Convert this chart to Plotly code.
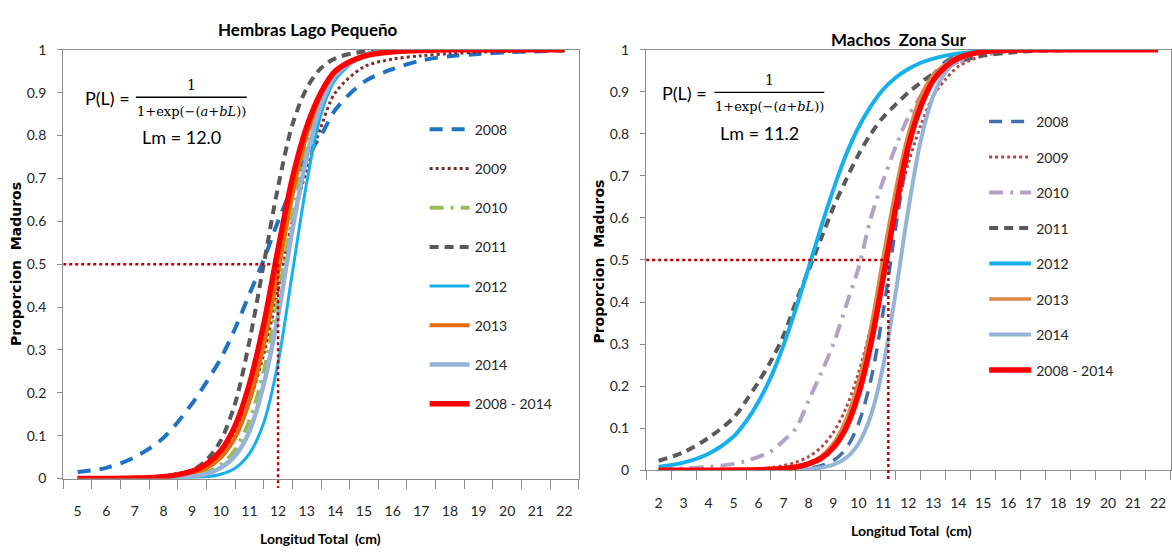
import plotly.graph_objects as go

W, H = 1172, 558

# ---------------- Hembras Lago Pequeño ----------------
lp_len = [5, 6, 7, 8, 9, 9.5, 10, 10.5, 11, 11.5, 12, 12.5, 13, 13.5, 14,
          15, 16, 17, 18, 19, 20, 21, 22]
lp_2008 = [0.015, 0.025, 0.05, 0.095, 0.175, 0.225, 0.28, 0.35, 0.43, 0.51, 0.60,
           0.68, 0.75, 0.80, 0.86, 0.925, 0.955, 0.975, 0.985, 0.99, 0.994, 0.996, 0.998]
lp_2009 = [0.0, 0.001, 0.002, 0.006, 0.02, 0.035, 0.06, 0.11, 0.18, 0.29, 0.44,
           0.60, 0.72, 0.82, 0.90, 0.96, 0.978, 0.986, 0.991, 0.994, 0.996, 0.998, 0.999]
lp_2010 = [0.0, 0.0, 0.0003, 0.0015, 0.007, 0.015, 0.032, 0.067, 0.135, 0.25, 0.42,
           0.61, 0.775, 0.88, 0.94, 0.987, 0.997, 1, 1, 1, 1, 1, 1]
lp_2011 = [0.0, 0.0002, 0.001, 0.004, 0.02, 0.043, 0.089, 0.175, 0.32, 0.5, 0.68,
           0.825, 0.91, 0.957, 0.98, 0.996, 0.999, 1, 1, 1, 1, 1, 1]
lp_2012 = [0.0, 0.0, 0.0, 0.0005, 0.002, 0.004, 0.010, 0.024, 0.058, 0.13, 0.27,
           0.48, 0.69, 0.85, 0.93, 0.988, 0.998, 1, 1, 1, 1, 1, 1]
lp_2013 = [0.0, 0.0002, 0.001, 0.003, 0.012, 0.024, 0.049, 0.095, 0.18, 0.31, 0.48,
           0.66, 0.80, 0.89, 0.944, 0.986, 0.997, 1, 1, 1, 1, 1, 1]
lp_2014 = [0.0, 0.0, 0.0002, 0.001, 0.005, 0.011, 0.025, 0.053, 0.11, 0.22, 0.38,
           0.58, 0.75, 0.87, 0.94, 0.987, 0.997, 1, 1, 1, 1, 1, 1]
lp_all = [0.0, 0.0003, 0.001, 0.004, 0.017, 0.034, 0.065, 0.123, 0.22, 0.36, 0.535,
          0.70, 0.82, 0.90, 0.95, 0.985, 0.995, 0.998, 1, 1, 1, 1, 1]
lp_ticks = list(range(5, 23))
lp_lm = 12.0

# ---------------- Machos Zona Sur ----------------
zs_len = [2, 3, 4, 5, 5.5, 6, 6.5, 7, 7.5, 8, 8.5, 9, 9.5, 10, 10.5, 11, 11.5,
          12, 12.5, 13, 13.5, 14, 15, 16, 17, 18, 19, 20, 21, 22]
zs_2008 = [0, 0, 0, 0, 0, 0, 0.0005, 0.001, 0.002, 0.005, 0.011, 0.023, 0.051, 0.11,
           0.215, 0.38, 0.58, 0.756, 0.875, 0.94, 0.972, 0.987, 0.997, 1, 1, 1, 1, 1, 1, 1]
zs_2009 = [0, 0.0001, 0.0004, 0.0012, 0.002, 0.0036, 0.006, 0.011, 0.019, 0.032, 0.054,
           0.09, 0.147, 0.23, 0.34, 0.47, 0.61, 0.73, 0.82, 0.89, 0.93, 0.96, 0.986,
           0.995, 0.998, 1, 1, 1, 1, 1]
zs_2010 = [0.002, 0.004, 0.008, 0.015, 0.022, 0.032, 0.045, 0.07, 0.10, 0.165, 0.23,
           0.30, 0.39, 0.48, 0.60, 0.69, 0.77, 0.84, 0.89, 0.93, 0.955, 0.97, 0.988,
           0.995, 0.998, 1, 1, 1, 1, 1]
zs_2011 = [0.022, 0.043, 0.077, 0.125, 0.165, 0.21, 0.26, 0.32, 0.40, 0.475, 0.55,
           0.625, 0.69, 0.75, 0.80, 0.84, 0.87, 0.898, 0.922, 0.943, 0.96, 0.972,
           0.986, 0.993, 0.997, 0.998, 0.999, 1, 1, 1]
zs_2012 = [0.0085, 0.018, 0.039, 0.08, 0.116, 0.163, 0.222, 0.297, 0.385, 0.48, 0.577,
           0.668, 0.749, 0.815, 0.866, 0.906, 0.934, 0.954, 0.969, 0.979, 0.986, 0.991,
           0.996, 0.999, 1, 1, 1, 1, 1, 1]
zs_2013 = [0, 0, 0, 0.0005, 0.001, 0.0015, 0.0025, 0.0045, 0.009, 0.017, 0.033, 0.064,
           0.12, 0.21, 0.34, 0.51, 0.67, 0.80, 0.89, 0.94, 0.966, 0.984, 0.996, 0.999,
           1, 1, 1, 1, 1, 1]
zs_2014 = [0, 0, 0, 0, 0, 0, 0.0002, 0.0005, 0.001, 0.003, 0.006, 0.013, 0.029, 0.063,
           0.13, 0.25, 0.425, 0.62, 0.785, 0.89, 0.948, 0.975, 0.995, 1, 1, 1, 1, 1, 1, 1]
zs_all = [0, 0, 0, 0.0003, 0.0005, 0.001, 0.002, 0.004, 0.0075, 0.015, 0.028, 0.054,
          0.10, 0.18, 0.30, 0.46, 0.625, 0.77, 0.865, 0.927, 0.96, 0.98, 0.995, 0.999,
          1, 1, 1, 1, 1, 1]
zs_ticks = list(range(2, 23))
zs_lm = 11.2

series_names = ["2008", "2009", "2010", "2011", "2012", "2013", "2014", "2008 - 2014"]
y_ticks = [0, 0.1, 0.2, 0.3, 0.4, 0.5, 0.6, 0.7, 0.8, 0.9, 1]
y_ticktext = ["0", "0.1", "0.2", "0.3", "0.4", "0.5", "0.6", "0.7", "0.8", "0.9", "1"]

# line styles (color, width, dash) per panel
lp_styles = [
    ("#1f72c4", 4, "13px,9px"),
    ("#7a2f2a", 3, "3px,3px"),
    ("#9bbb59", 4, "14px,7px,3px,7px"),
    ("#595959", 4, "9px,6px"),
    ("#17b0ee", 3, "solid"),
    ("#e46c0a", 4, "solid"),
    ("#95b3d7", 4.5, "solid"),
    ("#ff0000", 5.5, "solid"),
]
zs_styles = [
    ("#3f6fae", 3.5, "13px,9px"),
    ("#b04a45", 3, "3px,3px"),
    ("#b3a2c7", 4, "14px,7px,3px,7px"),
    ("#595959", 4, "9px,6px"),
    ("#17b0ee", 4, "solid"),
    ("#dc8845", 3.5, "solid"),
    ("#95b3d7", 4, "solid"),
    ("#ff0000", 5.5, "solid"),
]

FONT = "Lato"
SERIF = "DejaVu Serif"
TXT = "#262626"
AXC = "#8c8c8c"


def px(x):
    return x / W


def py(y):
    return 1 - y / H


fig = go.Figure()

lp_series = [lp_2008, lp_2009, lp_2010, lp_2011, lp_2012, lp_2013, lp_2014, lp_all]
zs_series = [zs_2008, zs_2009, zs_2010, zs_2011, zs_2012, zs_2013, zs_2014, zs_all]

for name, vals, (col, w, dash) in zip(series_names, lp_series, lp_styles):
    fig.add_trace(go.Scatter(
        x=lp_len, y=vals, name=name, mode="lines", xaxis="x", yaxis="y",
        line=dict(color=col, width=w, dash=dash, shape="spline", smoothing=0.9),
        legend="legend", legendgroup="L" + name, cliponaxis=False,
        hoverinfo="skip"))

for name, vals, (col, w, dash) in zip(series_names, zs_series, zs_styles):
    fig.add_trace(go.Scatter(
        x=zs_len, y=vals, name=name, mode="lines", xaxis="x2", yaxis="y2",
        line=dict(color=col, width=w, dash=dash, shape="spline", smoothing=0.9),
        legend="legend2", legendgroup="R" + name, cliponaxis=False,
        hoverinfo="skip"))

# plot-area geometry (pixels)
L_X0, L_X1, L_Y0, L_Y1 = 63.3, 579.3, 42, 484.3
R_X0, R_X1, R_Y0, R_Y1 = 646.7, 1171.5, 42, 475.7

tickfont = dict(family=FONT, size=14, color=TXT)


def xaxis_def(x0, x1, lo, ticks):
    return dict(
        domain=[px(x0), px(x1)], range=[lo - 0.5, ticks[-1] + 0.5],
        tickmode="array", tickvals=ticks, ticktext=[str(t) for t in ticks],
        ticks="", tickfont=tickfont, ticklabelstandoff=20,
        showline=True, linecolor=AXC, linewidth=1.3, mirror=True,
        showgrid=False, zeroline=False, fixedrange=True,
        minor=dict(tick0=lo - 0.5, dtick=1, ticks="outside", ticklen=9,
                   tickwidth=1.3, tickcolor=AXC, showgrid=False),
    )


def yaxis_def(y0, y1):
    return dict(
        domain=[py(y1), py(y0)], range=[0, 1],
        tickmode="array", tickvals=y_ticks, ticktext=y_ticktext,
        ticks="outside", ticklen=5, tickwidth=1.3, tickcolor=AXC,
        tickfont=tickfont, ticklabelstandoff=8,
        showline=True, linecolor=AXC, linewidth=1.3, mirror=True,
        showgrid=False, zeroline=False, fixedrange=True,
    )


xa = xaxis_def(L_X0, L_X1, lp_ticks[0], lp_ticks)
xa["anchor"] = "y"
ya = yaxis_def(L_Y0, L_Y1)
ya["anchor"] = "x"
xa2 = xaxis_def(R_X0, R_X1, zs_ticks[0], zs_ticks)
xa2["anchor"] = "y2"
ya2 = yaxis_def(R_Y0, R_Y1)
ya2["anchor"] = "x2"

legfont = dict(family=FONT, size=14, color=TXT)

fig.update_layout(
    width=W, height=H, margin=dict(l=0, r=0, t=0, b=0),
    paper_bgcolor="white", plot_bgcolor="white",
    showlegend=True,
    xaxis=xa, yaxis=ya, xaxis2=xa2, yaxis2=ya2,
    legend=dict(x=px(425), y=py(108), xanchor="left", yanchor="top",
                font=legfont, bgcolor="rgba(0,0,0,0)", tracegroupgap=18,
                itemwidth=40, itemclick=False, itemdoubleclick=False),
    legend2=dict(x=px(985), y=py(100), xanchor="left", yanchor="top",
                 font=legfont, bgcolor="rgba(0,0,0,0)", tracegroupgap=14.3,
                 itemwidth=42, itemclick=False, itemdoubleclick=False),
)

# reference lines at P = 0.5 and Lm
DOT = dict(color="#c00000", width=2.5, dash="dot")
for xref, yref, lo, hi, lm in (("x", "y", lp_ticks[0] - 0.5, lp_ticks[-1] + 0.5, lp_lm),
                               ("x2", "y2", zs_ticks[0] - 0.5, zs_ticks[-1] + 0.5, zs_lm)):
    fig.add_shape(type="line", xref=xref, yref=yref, x0=lo, x1=lm, y0=0.5, y1=0.5,
                  line=DOT)
    fx = (lm - lo) / (hi - lo)
    fig.add_shape(type="line", xref=xref + " domain", yref=yref + " domain",
                  x0=fx, x1=fx, y0=0.5, y1=-0.022, line=DOT)

ann = []


def add_text(x, y, text, size, bold=False, xanchor="center", angle=0, family=FONT):
    ann.append(dict(x=px(x), y=py(y), xref="paper", yref="paper", text=text,
                    showarrow=False, xanchor=xanchor, yanchor="middle",
                    textangle=angle,
                    font=dict(family=family, size=size, color="#000000",
                              weight="bold" if bold else "normal")))


# titles
add_text(308, 21, "Hembras Lago Pequeño", 17, bold=True)
add_text(900, 31, "Machos  Zona Sur", 17, bold=True)
# axis titles
add_text(321, 546, "Longitud Total  (cm)", 14, bold=True)
add_text(912, 538, "Longitud Total  (cm)", 14, bold=True)
add_text(16, 263, "Proporcion  Maduros", 14, bold=True, angle=-90, family="DejaVu Sans")
add_text(600, 260, "Proporcion  Maduros", 14, bold=True, angle=-90, family="DejaVu Sans")

# logistic model text
denom = "1+exp(\u2212(<i>a</i>+<i>bL</i>))"
for (p_right, bar0, bar1, ybar, lm_x, lm_y, lm_txt) in (
        (132, 136, 247, 91, 182, 132, "Lm = 12.0"),
        (710, 715, 825, 86, 760, 128, "Lm = 11.2")):
    add_text(p_right, ybar + 1, "P(L) =", 18, xanchor="right")
    add_text((bar0 + bar1) / 2, ybar - 13, "1", 14, family=SERIF)
    add_text((bar0 + bar1) / 2, ybar + 15, denom, 13, family=SERIF)
    add_text(lm_x, lm_y, lm_txt, 18)
    fig.add_shape(type="line", xref="paper", yref="paper",
                  x0=px(bar0), x1=px(bar1), y0=py(ybar), y1=py(ybar),
                  line=dict(color="#000000", width=1.3))

fig.update_layout(annotations=ann)

fig.write_html("out.html")
